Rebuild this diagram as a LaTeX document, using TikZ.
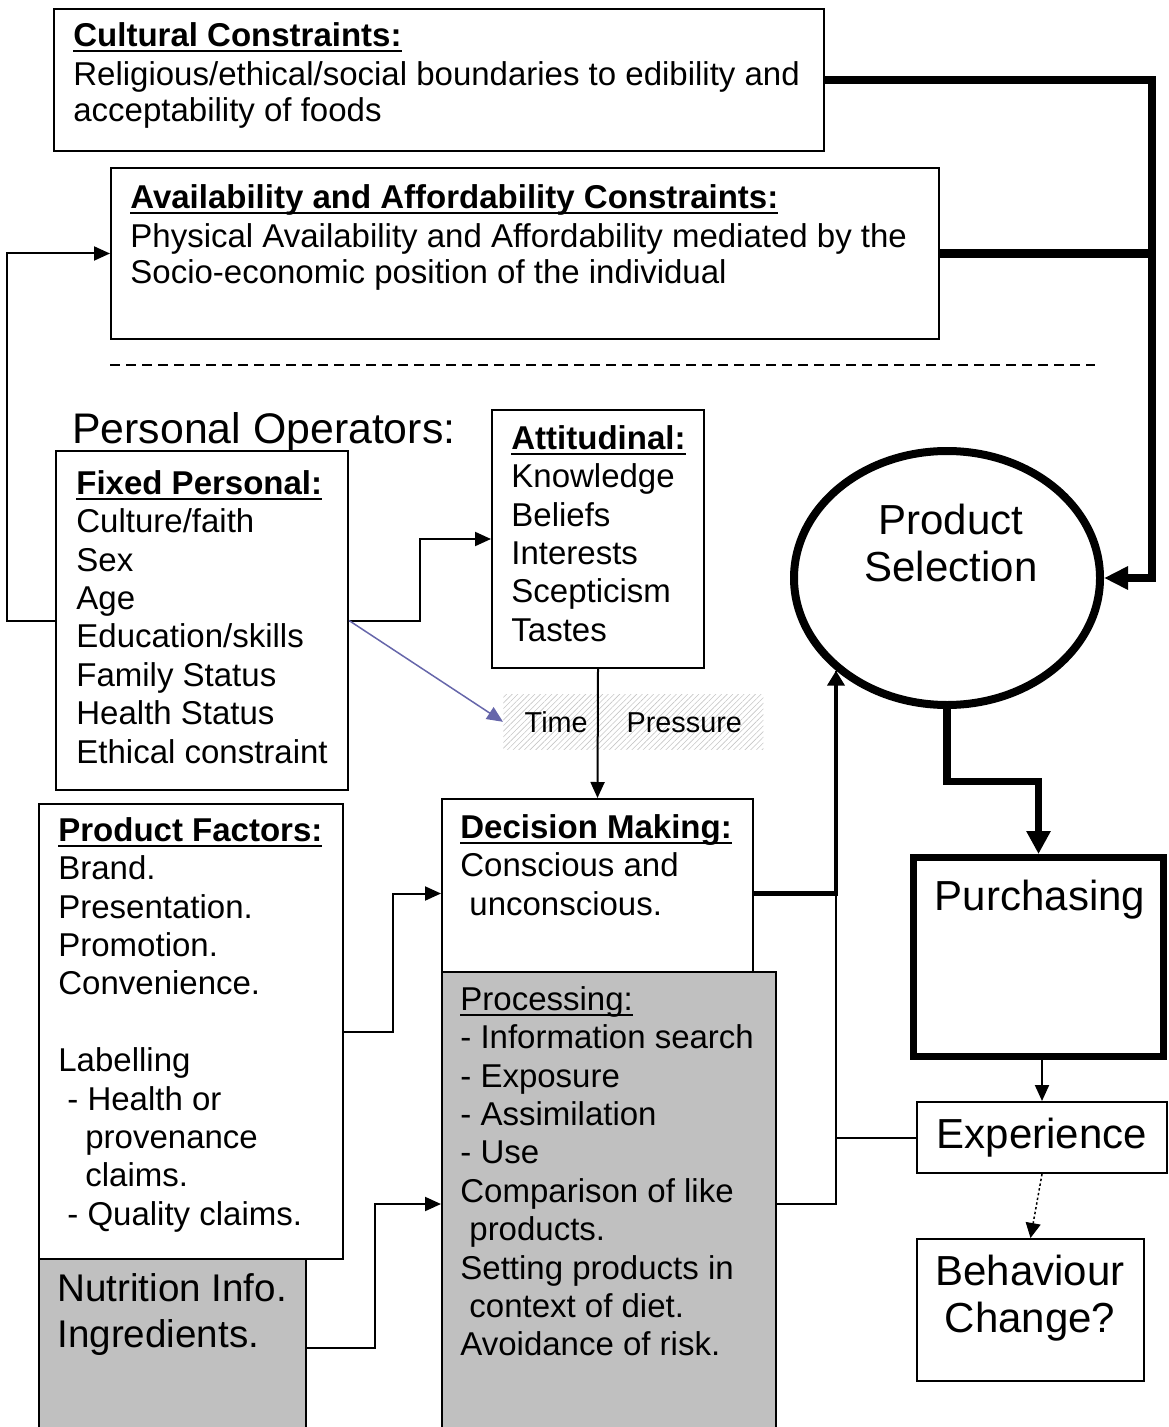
\documentclass[tikz,border=0pt]{standalone}
\usepackage{fontspec}
\setmainfont{Liberation Sans}
\usetikzlibrary{arrows.meta, shapes.geometric, patterns.meta, calc}

\definecolor{procgrey}{RGB}{192,192,192}
\definecolor{tpblue}{RGB}{102,102,170}
\newcommand{\bodyfont}{\fontsize{16.5}{19.2}\selectfont}
\newcommand{\topfont}{\fontsize{16.5}{17.8}\selectfont}
\newcommand{\opfont}{\fontsize{21.4}{25.7}\selectfont}
\newcommand{\bigfont}{\fontsize{21}{23.5}\selectfont}
\newcommand{\nutfont}{\fontsize{19.3}{23}\selectfont}
\newcommand{\tpfont}{\fontsize{14.4}{17}\selectfont}
\newcommand{\ulbox}[1]{\setbox0=\hbox{#1}\rlap{\rule[-3pt]{\wd0}{1.4pt}}\box0}

\tikzset{
  box/.style={draw, line width=1pt, inner sep=0pt, anchor=north west},
  txt/.style={anchor=north west, inner sep=0pt, align=left, font=\bodyfont, execute at begin node=\strut},
  link/.style={line width=1pt, -{Triangle[length=8pt,width=7pt]}},
  heavy/.style={line width=4.25pt}
}

\begin{document}
\begin{tikzpicture}[x=0.5pt, y=-0.5pt]
\clip (0,0) rectangle (1168,1427);

\node[box, minimum width=385pt, minimum height=71pt] (cu) at (53,8) {};
\node[txt, font=\topfont] (cutxt) at (73,22) {\ulbox{\bfseries Cultural Constraints:}\\[2pt]Religious/ethical/social boundaries to edibility and\\acceptability of foods};

\node[box, minimum width=414pt, minimum height=85.5pt] (av) at (110,167) {};
\node[txt, font=\topfont] (avtxt) at (130,184) {\ulbox{\bfseries Availability and Affordability Constraints:}\\[2pt]Physical Availability and Affordability mediated by the\\Socio-economic position of the individual};

\draw[line width=1pt, dash pattern=on 5pt off 3pt] (110,365) -- (1095,365);

\node[txt, font=\opfont] (optxt) at (72,407) {Personal Operators:};

\node[box, minimum width=146pt, minimum height=169.5pt] (fp) at (55,450) {};
\node[txt] (fptxt) at (76,470) {\ulbox{\bfseries Fixed Personal:}\\Culture/faith\\Sex\\Age\\Education/skills\\Family Status\\Health Status\\Ethical constraint};

\node[box, minimum width=106pt, minimum height=129pt] (att) at (491,409) {};
\node[txt] (atttxt) at (511,425) {\ulbox{\bfseries Attitudinal:}\\Knowledge\\Beliefs\\Interests\\Scepticism\\Tastes};

\node[anchor=north west, inner sep=0pt, minimum width=130pt, minimum height=27.5pt, pattern={Lines[angle=45,distance=2pt,line width=0.3pt]}, pattern color=gray!45, font=\tpfont] (tp) at (503,694) {Time\hspace{19.5pt}Pressure};

\node[box, minimum width=155.5pt, minimum height=86.5pt] (dm) at (441,798) {};
\node[txt] (dmtxt) at (460,814) {\ulbox{\bfseries Decision Making:}\\Conscious and\\\hspace*{4.5pt}unconscious.};

\node[box, fill=procgrey, minimum width=167pt, minimum height=232pt] (proc) at (441,971) {};
\node[txt] (proctxt) at (460,986) {\ulbox{Processing:}\\- Information search\\- Exposure\\- Assimilation\\- Use\\Comparison of like\\\hspace*{4.5pt}products.\\Setting products in\\\hspace*{4.5pt}context of diet.\\Avoidance of risk.};

\node[box, minimum width=152pt, minimum height=227.5pt] (pf) at (38,803) {};
\node[txt] (pftxt) at (58,817) {\ulbox{\bfseries Product Factors:}\\Brand.\\Presentation.\\Promotion.\\Convenience.\\[19.2pt]Labelling\\\hspace*{4.5pt}- Health or\\\hspace*{13.5pt}provenance\\\hspace*{13.5pt}claims.\\\hspace*{4.5pt}- Quality claims.};

\node[box, fill=procgrey, minimum width=133.5pt, minimum height=88.5pt] (nu) at (38,1258) {};
\node[txt, font=\nutfont] (nutxt) at (57,1273) {Nutrition Info.\\Ingredients.};

\node[ellipse, draw, line width=4pt, minimum width=153pt, minimum height=127pt, inner sep=0pt] (ps) at (947,578) {};
\node[align=center, inner sep=0pt, anchor=north, font=\bigfont, execute at begin node=\strut] (pstxt) at (951,504) {Product\\Selection};

\node[box, line width=3.5pt, minimum width=125pt, minimum height=99.5pt] (pur) at (910,854) {};
\node[anchor=base, font=\bigfont] (purtxt) at (1040,910) {Purchasing};
\node[box, minimum width=125pt, minimum height=35.5pt, font=\bigfont] (exp) at (916,1101) {Experience};
\node[box, minimum width=113.5pt, minimum height=71pt] (beh) at (916,1238) {};
\node[align=center, inner sep=0pt, anchor=north, font=\bigfont, execute at begin node=\strut] (behtxt) at (1030,1255) {Behaviour\\Change?};

\draw[link] (fp.west) -- ++(-48,0) |- (av.west);
\draw[link] (fp.east) -- ++(71,0) |- (att.west);
\draw[link, tpblue, line width=.75pt] (fp.east) -- (tp.west);
\draw[link] (att.south) -- (dm.north);
\draw[link] (pf.east) -- ++(49,0) |- ([yshift=-4pt]dm.west);
\draw[link] (nu.east) -- ++(68,0) |- (proc.west);
\draw[line width=1pt] (proc.east) -| (ps.south west);
\draw[line width=1pt] (exp.west) -- (exp.west -| ps.south west);
\draw[line width=2.25pt, -{Triangle[length=7.5pt,width=8.5pt]}] ([yshift=-4pt]dm.east) -| (ps.south west);

\coordinate (rbend) at ([xshift=24pt]ps.east);
\draw[heavy, -{Triangle[length=12pt,width=11pt]}] (cu.east) -| (rbend) -- (ps.east);
\draw[heavy] (av.east) -- (av.east -| rbend);
\draw[line width=3.75pt, -{Triangle[length=11.5pt,width=11.5pt]}] (ps.south) |- ($(ps.south)!.5!(pur.north)$) -| (pur.north);
\draw[link] (exp.north |- pur.south) -- (exp.north);
\draw[line width=.75pt, dash pattern=on 1.2pt off 1.2pt, -{Triangle[length=7.5pt,width=7.5pt]}] (exp.south) -- (beh.north);
\end{tikzpicture}
\end{document}
